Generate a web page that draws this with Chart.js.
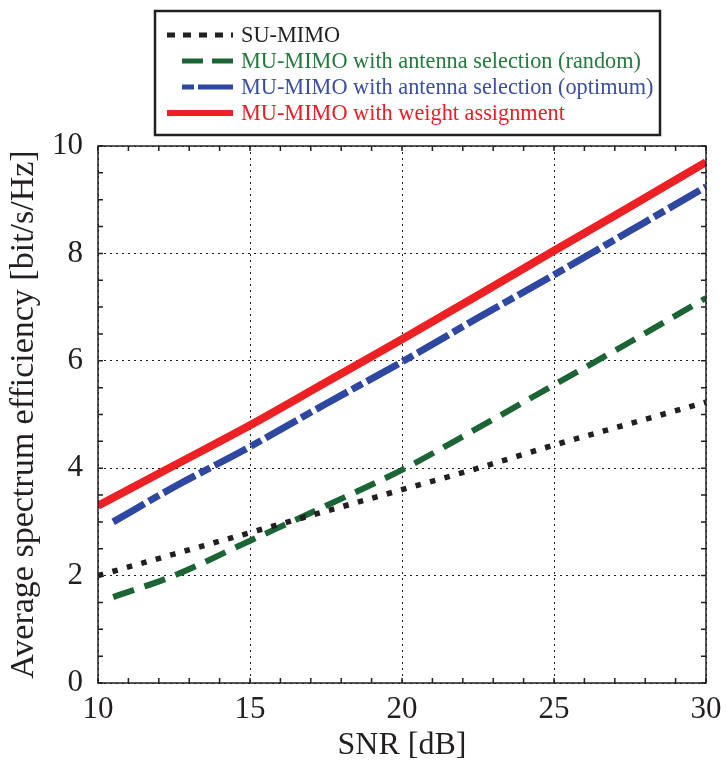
<!DOCTYPE html>
<html>
<head>
<meta charset="utf-8">
<script src="https://cdn.jsdelivr.net/npm/chart.js@4.4.1/dist/chart.umd.min.js"></script>
<style>
  html, body { margin: 0; padding: 0; background: #fff; }
  #chart { display: block; }
</style>
</head>
<body>
<canvas id="chart" width="726" height="765"></canvas>
<script>
// Dados
const snrSu = [10, 12.5, 15, 17.5, 20, 22.5, 25, 27.5, 30];
const suMimo = [2.0, 2.4, 2.8, 3.2, 3.6, 4.0, 4.43, 4.83, 5.23];

const snrSel = [10.5, 12.5, 15, 17.5, 20, 22.5, 25, 27.5, 30];
const randomSel = [1.6, 2.0, 2.65, 3.3, 3.97, 4.75, 5.55, 6.35, 7.17];
const optimumSel = [3.0, 3.65, 4.4, 5.2, 5.98, 6.8, 7.6, 8.42, 9.24];

const snrWeight = [10, 12.5, 15, 17.5, 20, 22.5, 25, 27.5, 30];
const weightAssign = [3.3, 4.05, 4.8, 5.6, 6.4, 7.22, 8.05, 8.87, 9.7];

const seriesNames = [
  'SU-MIMO',
  'MU-MIMO with antenna selection (random)',
  'MU-MIMO with antenna selection (optimum)',
  'MU-MIMO with weight assignment'
];

const serif = "'Liberation Serif', 'DejaVu Serif', serif";

function pts(xs, ys) {
  return xs.map((x, i) => ({ x: x, y: ys[i] }));
}

// legenda em caixa e moldura com marcas menores
const framePlugin = {
  id: 'frame',
  afterDraw(chart) {
    const ctx = chart.ctx;
    const a = chart.chartArea;
    const xs = chart.scales.x;
    const ys = chart.scales.y;
    ctx.save();
    ctx.strokeStyle = '#231f20';
    ctx.lineWidth = 1.5;
    ctx.setLineDash([]);
    ctx.strokeRect(a.left, a.top, a.right - a.left, a.bottom - a.top);
    ctx.beginPath();
    for (let v = 10; v <= 30; v += 1) {
      const px = xs.getPixelForValue(v);
      ctx.moveTo(px, a.bottom); ctx.lineTo(px, a.bottom - 5);
      ctx.moveTo(px, a.top); ctx.lineTo(px, a.top + 5);
    }
    for (let v = 0; v <= 10; v += 0.5) {
      const py = ys.getPixelForValue(v);
      ctx.moveTo(a.left, py); ctx.lineTo(a.left + 5, py);
      ctx.moveTo(a.right, py); ctx.lineTo(a.right - 5, py);
    }
    ctx.stroke();

    // legenda
    ctx.fillStyle = '#fff';
    ctx.fillRect(155, 11, 505, 124);
    ctx.lineWidth = 2.5;
    ctx.strokeStyle = '#231f20';
    ctx.strokeRect(155, 11, 505, 124);
    const rowsY = [35, 61, 87, 113];
    const sampleStart = [167, 182, 182, 167];
    const textColors = ['#231f20', '#247a3c', '#3a4fa3', '#ed1c24'];
    ctx.font = '22.3px ' + serif;
    ctx.textBaseline = 'middle';
    ctx.textAlign = 'left';
    chart.data.datasets.forEach((ds, i) => {
      ctx.beginPath();
      ctx.strokeStyle = ds.borderColor;
      ctx.lineWidth = ds.legendWidth;
      ctx.setLineDash(ds.legendDash);
      ctx.moveTo(sampleStart[i], rowsY[i]);
      ctx.lineTo(233, rowsY[i]);
      ctx.stroke();
      ctx.fillStyle = textColors[i];
      ctx.fillText(ds.label, 241, rowsY[i] + 1);
    });
    ctx.restore();
  }
};

new Chart(document.getElementById('chart'), {
  type: 'line',
  data: {
    datasets: [
      {
        label: seriesNames[0],
        data: pts(snrSu, suMimo),
        borderColor: '#231f20',
        borderWidth: 5.5,
        borderDash: [5.5, 9.5],
        legendDash: [8, 8],
        legendWidth: 5
      },
      {
        label: seriesNames[1],
        data: pts(snrSel, randomSel),
        borderColor: '#1b6534',
        borderWidth: 6,
        borderDash: [22, 11],
        legendDash: [21, 9],
        legendWidth: 5
      },
      {
        label: seriesNames[2],
        data: pts(snrSel, optimumSel),
        borderColor: '#2e47a0',
        borderWidth: 7,
        borderDash: [36, 5, 12, 5],
        legendDash: [12, 4, 36, 4],
        legendWidth: 5
      },
      {
        label: seriesNames[3],
        data: pts(snrWeight, weightAssign),
        borderColor: '#ed2024',
        borderWidth: 8,
        borderDash: [],
        legendDash: [],
        legendWidth: 6
      }
    ]
  },
  options: {
    responsive: false,
    animation: false,
    layout: { padding: { top: 146, right: 20, left: 0, bottom: 0 } },
    elements: {
      point: { radius: 0 },
      line: { tension: 0.3, cubicInterpolationMode: 'monotone', borderCapStyle: 'butt' }
    },
    plugins: {
      legend: { display: false },
      tooltip: { enabled: false }
    },
    scales: {
      x: {
        type: 'linear',
        min: 10,
        max: 30,
        afterFit(scale) { scale.height = 82; scale.paddingRight = 0; scale.paddingLeft = 0; },
        ticks: { stepSize: 5, color: '#231f20', font: { family: serif, size: 31 }, padding: 8, maxRotation: 0 },
        grid: { color: '#231f20', lineWidth: 1, drawTicks: false },
        border: { display: false, dash: [2, 4] },
        title: { display: true, text: 'SNR [dB]', color: '#231f20', font: { family: serif, size: 32 }, padding: { top: 0, bottom: 0 } }
      },
      y: {
        min: 0,
        max: 10,
        afterFit(scale) { scale.width = 98; },
        ticks: { stepSize: 2, color: '#231f20', font: { family: serif, size: 31 }, padding: 15 },
        grid: { color: '#231f20', lineWidth: 1, drawTicks: false },
        border: { display: false, dash: [2, 4] },
        title: { display: true, text: 'Average spectrum efficiency [bit/s/Hz]', color: '#231f20', font: { family: serif, size: 34 }, padding: { top: 4, bottom: 0 } }
      }
    }
  },
  plugins: [framePlugin]
});
</script>
</body>
</html>
